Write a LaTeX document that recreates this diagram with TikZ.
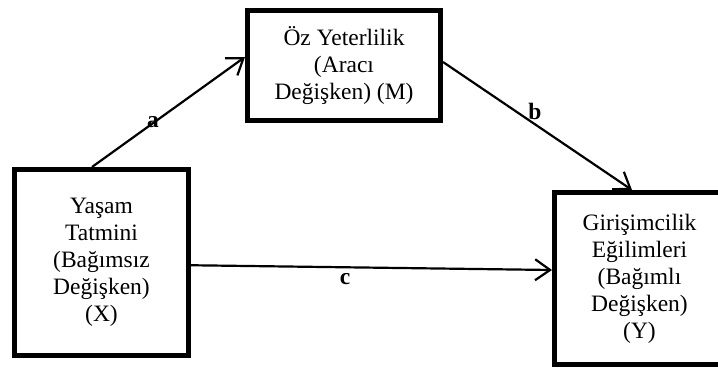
\documentclass[tikz,border=0pt]{standalone}
\usepackage{fontspec}
\setmainfont{Liberation Serif}
\usepackage[]{xcolor}
\usetikzlibrary{arrows.meta}

\tikzset{
  varbox/.style={draw, line width=5pt, align=center, inner sep=0pt,
    font=\fontsize{23.5}{27}\selectfont},
  path/.style={line width=2.2pt, -{Straight Barb[length=15pt,width=21pt,line width=2.2pt]}},
  coef/.style={anchor=base, font=\fontsize{23.5}{27}\selectfont\bfseries}
}

\begin{document}
\begin{tikzpicture}[x=1pt,y=-1pt]
        \useasboundingbox (0,0) rectangle (718,369);
        \node[varbox, minimum width=174pt, minimum height=185.5pt] (X) at (101.5,262.25)
             {Yaşam\\Tatmini\\(Bağımsız\\Değişken)\\(X)};
        \node[varbox, minimum width=193pt, minimum height=110pt] (M) at (344,65.5)
             {Öz Yeterlilik\\(Aracı\\Değişken) (M)};
        \node[varbox, minimum width=170pt, minimum height=172pt] (Y) at (639.5,278.5)
             {Girişimcilik\\Eğilimleri\\(Bağımlı\\Değişken)\\(Y)};
        \draw[path] ([xshift=-9.5pt]X.north) -- ([yshift=8.5pt]M.west);
        \draw[path] ([yshift=3.5pt]M.east) -- ([xshift=-7.5pt]Y.north);
        \draw[path] ([yshift=-3pt]X.east) -- ([yshift=8.5pt]Y.west);
        \node[coef] (pa) at (153,127) {a};
        \node[coef] (pb) at (535,119) {b};
        \node[coef] (pc) at (345,284) {c};
\end{tikzpicture}
\end{document}
